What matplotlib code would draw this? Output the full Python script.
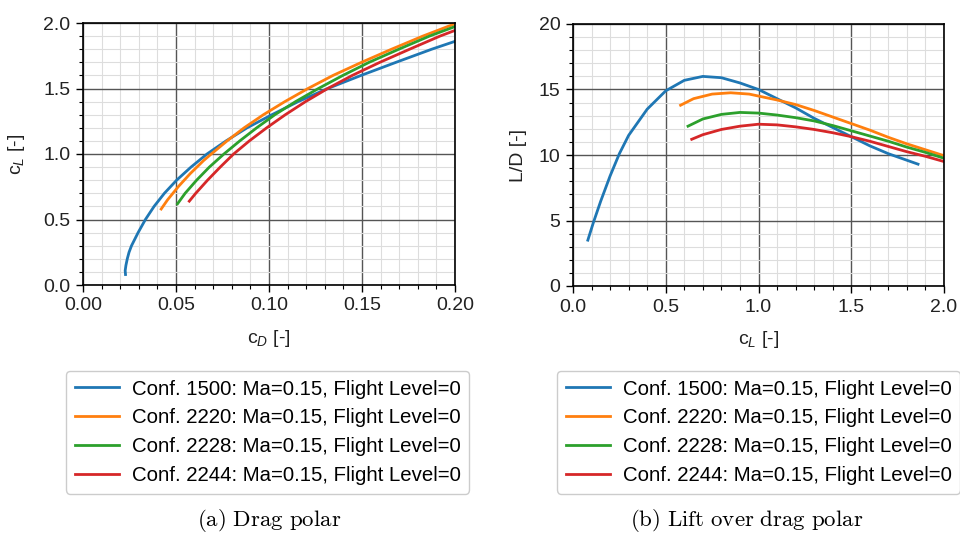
import numpy as np
import matplotlib
matplotlib.use("Agg")
import matplotlib.pyplot as plt
from matplotlib.ticker import MultipleLocator, FormatStrFormatter

plt.rcParams["font.family"] = ["Liberation Sans", "DejaVu Sans"]
plt.rcParams["mathtext.fontset"] = "custom"
plt.rcParams["mathtext.rm"] = "Liberation Sans"
plt.rcParams["mathtext.it"] = "Liberation Sans:italic"

# lift coefficient and lift-over-drag, read from the polars
cl_1500 = [0.08, 0.11, 0.15, 0.20, 0.25, 0.30, 0.40, 0.50, 0.60, 0.70, 0.80, 0.90,
           1.00, 1.10, 1.20, 1.30, 1.40, 1.50, 1.60, 1.70, 1.80, 1.86]
ld_1500 = [3.5, 4.85, 6.5, 8.4, 10.1, 11.5, 13.5, 14.9, 15.7, 16.0, 15.9, 15.5,
           15.0, 14.3, 13.6, 12.8, 12.1, 11.4, 10.7, 10.1, 9.6, 9.3]

cl_2220 = [0.58, 0.65, 0.75, 0.85, 0.95, 1.00, 1.10, 1.20, 1.30, 1.40, 1.50,
           1.60, 1.70, 1.80, 1.90, 2.00]
ld_2220 = [13.8, 14.3, 14.65, 14.75, 14.65, 14.5, 14.2, 13.85, 13.4, 12.9, 12.4,
           11.9, 11.35, 10.85, 10.4, 9.95]

cl_2228 = [0.62, 0.70, 0.80, 0.90, 1.00, 1.10, 1.20, 1.30, 1.40, 1.50, 1.60,
           1.70, 1.80, 1.90, 2.00]
ld_2228 = [12.2, 12.75, 13.1, 13.25, 13.2, 13.05, 12.85, 12.6, 12.25, 11.85, 11.45,
           11.05, 10.6, 10.2, 9.75]

cl_2244 = [0.64, 0.70, 0.80, 0.90, 1.00, 1.10, 1.20, 1.30, 1.40, 1.50, 1.60,
           1.70, 1.80, 1.90, 2.00]
ld_2244 = [11.2, 11.55, 11.95, 12.2, 12.35, 12.3, 12.15, 11.95, 11.7, 11.4, 11.05,
           10.65, 10.25, 9.9, 9.5]

labels = [
    "Conf. 1500: Ma=0.15, Flight Level=0",
    "Conf. 2220: Ma=0.15, Flight Level=0",
    "Conf. 2228: Ma=0.15, Flight Level=0",
    "Conf. 2244: Ma=0.15, Flight Level=0",
]
colors = ["#1f77b4", "#ff7f0e", "#2ca02c", "#d62728"]

series = [(cl_1500, ld_1500), (cl_2220, ld_2220), (cl_2228, ld_2228), (cl_2244, ld_2244)]


def style_axes(ax, xmaj, xmin, ymaj, ymin):
    ax.xaxis.set_major_locator(MultipleLocator(xmaj))
    ax.xaxis.set_minor_locator(MultipleLocator(xmin))
    ax.yaxis.set_major_locator(MultipleLocator(ymaj))
    ax.yaxis.set_minor_locator(MultipleLocator(ymin))
    ax.grid(True, which="major", color="#555555", lw=1.0)
    ax.grid(True, which="minor", color="#dddddd", lw=0.8)
    ax.set_axisbelow(True)
    ax.tick_params(which="major", length=5, width=1.0, labelsize=14, pad=4,
                   labelcolor="#222222")
    ax.tick_params(which="minor", length=3, width=0.8)
    for sp in ax.spines.values():
        sp.set_linewidth(1.2)


fig = plt.figure(figsize=(9.6, 5.36), dpi=100)
ax1 = fig.add_axes([83 / 960, 1 - 285 / 536, 372 / 960, 262 / 536])
ax2 = fig.add_axes([573 / 960, 1 - 286 / 536, 371 / 960, 262 / 536])

lines = []
for (cl, ld), c, lab in zip(series, colors, labels):
    cl = np.array(cl)
    ld = np.array(ld)
    cd = cl / ld
    ln, = ax1.plot(cd, cl, color=c, lw=2.0, label=lab)
    ax2.plot(cl, ld, color=c, lw=2.0, label=lab)
    lines.append(ln)

ax1.set_xlim(0, 0.2)
ax1.set_ylim(0, 2.0)
style_axes(ax1, 0.05, 0.01, 0.5, 0.1)
ax1.xaxis.set_major_formatter(FormatStrFormatter("%.2f"))
ax1.yaxis.set_major_formatter(FormatStrFormatter("%.1f"))
ax1.set_xlabel("c$_{D}$ [-]", fontsize=14, color="#222222")
ax1.set_ylabel("c$_{L}$ [-]", fontsize=14, color="#222222")
ax1.xaxis.set_label_coords(0.5, -0.165)
ax1.yaxis.set_label_coords(-0.15, 0.5)

ax2.set_xlim(0, 2.0)
ax2.set_ylim(0, 20)
style_axes(ax2, 0.5, 0.1, 5, 1)
ax2.xaxis.set_major_formatter(FormatStrFormatter("%.1f"))
ax2.set_xlabel("c$_{L}$ [-]", fontsize=14, color="#222222")
ax2.set_ylabel("L/D [-]", fontsize=14, color="#222222")
ax2.xaxis.set_label_coords(0.5, -0.165)
ax2.yaxis.set_label_coords(-0.125, 0.5)

leg_kw = dict(loc="upper left", fontsize=14.7, handlelength=2.2, handletextpad=0.6,
              labelspacing=0.48, borderpad=0.42, borderaxespad=0.0, framealpha=1.0,
              edgecolor="#cccccc", fancybox=True)
fig.legend(handles=lines, labels=labels, bbox_to_anchor=(66 / 960, 1 - 371 / 536), **leg_kw)
fig.legend(handles=lines, labels=labels, bbox_to_anchor=(557 / 960, 1 - 371 / 536), **leg_kw)

fig.text(269 / 960, 1 - 521 / 536, r"$\mathrm{(a)\ Drag\ polar}$", math_fontfamily="cm",
         fontsize=16.5, ha="center", va="center")
fig.text(747 / 960, 1 - 521 / 536, r"$\mathrm{(b)\ Lift\ over\ drag\ polar}$", math_fontfamily="cm",
         fontsize=16.5, ha="center", va="center")

fig.savefig("out.png", dpi=100)
